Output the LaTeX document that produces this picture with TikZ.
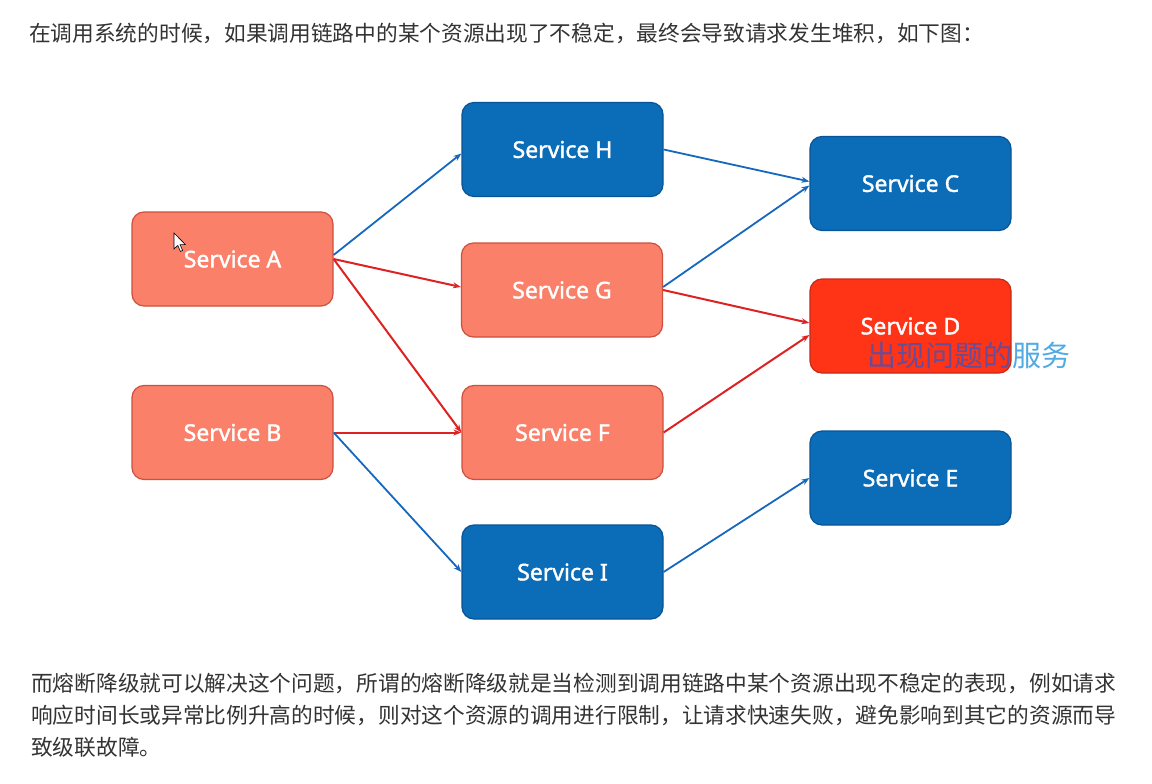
\documentclass[tikz,border=0pt]{standalone}
\usepackage{fontspec}
\setmainfont{Noto Sans}
\newfontfamily\svcfont{Noto Sans}[FakeBold=1.6]
\newfontfamily\cjk{Noto Sans CJK SC}
\usetikzlibrary{arrows.meta}
\definecolor{bluebox}{RGB}{11,108,184}
\definecolor{blueedge}{RGB}{8,84,150}
\definecolor{salmon}{RGB}{250,128,106}
\definecolor{salmonedge}{RGB}{205,80,60}
\definecolor{hotred}{RGB}{255,52,22}
\definecolor{hotedge}{RGB}{200,40,20}
\definecolor{redline}{RGB}{222,34,34}
\definecolor{blueline}{RGB}{22,104,190}
\definecolor{txt}{RGB}{51,51,51}
\definecolor{overlaypurple}{RGB}{120,90,180}
\definecolor{overlayblue}{RGB}{80,170,228}
\tikzset{
  svc/.style={rounded corners=12pt, minimum width=201pt, minimum height=94pt, inner sep=0pt,
    line width=1.2pt, text=white, font=\svcfont\fontsize{23}{24}\selectfont},
  bluesvc/.style={svc, fill=bluebox, draw=blueedge},
  salmonsvc/.style={svc, fill=salmon, draw=salmonedge},
  hotsvc/.style={svc, fill=hotred, draw=hotedge},
  bluearrow/.style={draw=blueline, line width=1.8pt, -{Stealth[length=8pt,width=6pt]}},
  redarrow/.style={draw=redline, line width=2pt, -{Stealth[length=8pt,width=6pt]}},
  para/.style={anchor=west, inner sep=0pt, text=txt, font=\cjk\fontsize{21.7}{24}\selectfont}
}
\begin{document}
\begin{tikzpicture}[x=1pt,y=-1pt]
\useasboundingbox[fill=white] (0,0) rectangle (1152,784);

\node[para] (t1) at (29,33) {在调用系统的时候，如果调用链路中的某个资源出现了不稳定，最终会导致请求发生堆积，如下图：};

\node[salmonsvc] (A) at (232.5,259) {Service A};
\node[salmonsvc] (B) at (232.5,432.5) {Service B};
\node[bluesvc] (H) at (562.5,149.5) {Service H};
\node[salmonsvc] (G) at (562,290) {Service G};
\node[salmonsvc] (F) at (562.5,432.5) {Service F};
\node[bluesvc] (I) at (562.5,572) {Service I};
\node[bluesvc] (C) at (910.5,183.5) {Service C};
\node[hotsvc] (D) at (910.5,326) {Service D};
\node[bluesvc] (E) at (910.5,478) {Service E};

\node[anchor=west, inner sep=0pt, font=\cjk\fontsize{29}{30}\selectfont] (ov) at (867,355)
  {\textcolor{overlaypurple!85!black}{出现问题的}\textcolor{overlayblue}{服务}};

\draw[bluearrow] ([yshift=4pt]A.east) -- ([yshift=-4pt]H.west);
\draw[redarrow] (A.east) -- ([yshift=3pt]G.west);
\draw[redarrow] (A.east) -- (F.west);
\draw[redarrow] (B.east) -- (F.west);
\draw[bluearrow] (B.east) -- (I.west);
\draw[bluearrow] (H.east) -- ([yshift=2pt]C.west);
\draw[bluearrow] ([yshift=3pt]G.east) -- ([yshift=-2pt]C.west);
\draw[redarrow] (G.east) -- ([yshift=3pt]D.west);
\draw[redarrow] (F.east) -- ([yshift=-9pt]D.west);
\draw[bluearrow] (I.east) -- (E.west);

% mouse cursor
\coordinate (cur) at (174,233);
\draw[fill=white, draw=black, line width=0.6pt, shift={(cur)}]
  (0,0) -- (0,16) -- (3.8,12.4) -- (6.4,18.4) -- (8.6,17.4) -- (6,11.6) -- (11.4,11.6) -- cycle;

\node[para] (b1) at (31,683) {而熔断降级就可以解决这个问题，所谓的熔断降级就是当检测到调用链路中某个资源出现不稳定的表现，例如请求};
\node[para] (b2) at (31,715) {响应时间长或异常比例升高的时候，则对这个资源的调用进行限制，让请求快速失败，避免影响到其它的资源而导};
\node[para] (b3) at (31,747) {致级联故障。};
\end{tikzpicture}
\end{document}
